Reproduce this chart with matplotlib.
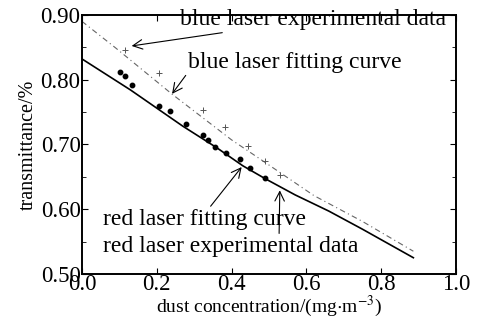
import matplotlib
matplotlib.use("Agg")
import matplotlib.pyplot as plt
from matplotlib.ticker import MultipleLocator, FormatStrFormatter

plt.rcParams['font.family'] = ['Liberation Serif', 'DejaVu Serif']
plt.rcParams['mathtext.fontset'] = 'stix'

# red laser fitting curve (solid)
red_fit_x = [0.0, 0.13, 0.27, 0.36, 0.43, 0.49, 0.57, 0.66, 0.75, 0.886]
red_fit_y = [0.832, 0.784, 0.728, 0.695, 0.667, 0.647, 0.622, 0.597, 0.569, 0.525]

# red laser experimental data (dots)
red_x = [0.102, 0.116, 0.134, 0.205, 0.236, 0.278, 0.324, 0.337, 0.357, 0.385, 0.423, 0.449, 0.489]
red_y = [0.811, 0.806, 0.792, 0.759, 0.751, 0.731, 0.714, 0.707, 0.696, 0.686, 0.678, 0.663, 0.648]

# blue laser fitting curve (dashed)
blue_fit_x = [0.0, 0.09, 0.24, 0.40, 0.485, 0.62, 0.75, 0.886]
blue_fit_y = [0.890, 0.849, 0.778, 0.707, 0.674, 0.621, 0.581, 0.535]

# blue laser experimental data (crosses)
blue_x = [0.116, 0.205, 0.325, 0.383, 0.445, 0.489, 0.529]
blue_y = [0.845, 0.810, 0.753, 0.727, 0.697, 0.674, 0.652]

fig = plt.figure(figsize=(4.79, 3.23), dpi=100)
ax = fig.add_axes([0.171, 0.152, 0.781, 0.802])

ax.plot(red_fit_x, red_fit_y, color='black', lw=1.2)
ax.plot(red_x, red_y, 'o', color='black', ms=3.2)
ax.plot(blue_fit_x, blue_fit_y, color='#666666', lw=0.8, dashes=(5, 3, 1, 3))
ax.plot(blue_x, blue_y, '+', color='#555555', ms=4, mew=0.7)

ax.set_xlim(0.0, 1.0)
ax.set_ylim(0.50, 0.90)
ax.xaxis.set_major_locator(MultipleLocator(0.2))
ax.yaxis.set_major_locator(MultipleLocator(0.1))
ax.yaxis.set_minor_locator(MultipleLocator(0.05))
ax.xaxis.set_major_formatter(FormatStrFormatter('%.1f'))
ax.yaxis.set_major_formatter(FormatStrFormatter('%.2f'))
ax.tick_params(direction='in', which='both', top=True, right=True, labelsize=16.5, pad=1)
ax.tick_params(axis='x', pad=0)
ax.tick_params(which='major', length=4)
ax.tick_params(which='minor', length=3)
for s in ax.spines.values():
    s.set_linewidth(1.4)

ax.set_xlabel('dust concentration/(mg$\\cdot$m$^{-3}$)', fontsize=14, labelpad=-1)
ax.set_ylabel('transmittance/%', fontsize=14.5, labelpad=2)

arrow = dict(arrowstyle='->', color='black', lw=0.8, shrinkA=0, shrinkB=0)
ax.annotate('blue laser experimental data', xy=(0.133, 0.852), xytext=(0.262, 0.893),
            fontsize=17, va='center', arrowprops=arrow)
ax.annotate('blue laser fitting curve', xy=(0.241, 0.778), xytext=(0.283, 0.827),
            fontsize=17, va='center', arrowprops=dict(arrow, relpos=(0.0, 0.0)))
ax.annotate('red laser fitting curve', xy=(0.427, 0.665), xytext=(0.056, 0.584),
            fontsize=17, va='center', arrowprops=dict(arrow, relpos=(0.52, 1.0)))
ax.annotate('red laser experimental data', xy=(0.529, 0.629), xytext=(0.056, 0.542),
            fontsize=17, va='center', arrowprops=dict(arrow, relpos=(0.69, 1.0)))

fig.savefig('out.png', dpi=100)
